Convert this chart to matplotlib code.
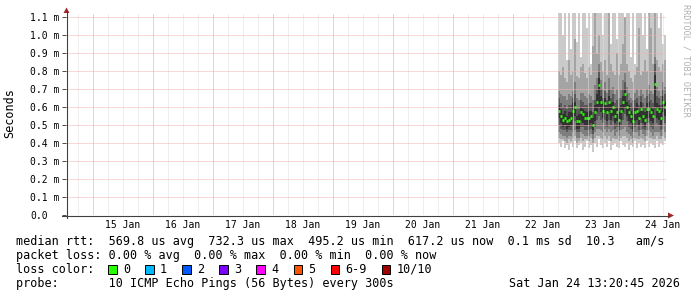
import numpy as np
import pandas as pd
import matplotlib
matplotlib.use("Agg")
import matplotlib.pyplot as plt
import matplotlib.dates as mdates
from matplotlib.lines import Line2D
from matplotlib.patches import Polygon, Rectangle

W, H = 697, 297
MONO = "DejaVu Sans Mono"

# graph window, last 10 days
window_start = "2026-01-14 13:20:45"
window_end = "2026-01-24 13:20:45"
day_labels = ["15 Jan", "16 Jan", "17 Jan", "18 Jan", "19 Jan",
              "20 Jan", "21 Jan", "22 Jan", "23 Jan", "24 Jan"]
y_ticks = [0.0, 0.1, 0.2, 0.3, 0.4, 0.5, 0.6, 0.7, 0.8, 0.9, 1.0, 1.1]
y_labels = ["0.0", "0.1 m", "0.2 m", "0.3 m", "0.4 m", "0.5 m", "0.6 m",
            "0.7 m", "0.8 m", "0.9 m", "1.0 m", "1.1 m"]

# consolidated samples (48 min each), values in 1/100 ms
first_sample = "2026-01-22 18:00"
sample_step = "48min"
median = [58, 55, 53, 54, 52, 53, 54, 58, 60, 52, 52,
          57, 56, 54, 54, 54, 55, 50, 57, 63, 72, 63,
          58, 62, 57, 63, 58, 60, 55, 57, 53, 58, 63,
          67, 60, 57, 55, 52, 57, 58, 54, 59, 55, 53,
          59, 59, 57, 55, 73, 59, 58, 54, 63, 60, 57]
# sorted pings per sample, p01 = fastest ... p10 = slowest
p10 = [115, 115, 100, 115, 86, 115, 92, 115, 115, 96, 115,
       88, 115, 115, 104, 115, 84, 115, 115, 115, 115, 115,
       100, 115, 115, 115, 95, 115, 115, 98, 115, 115, 115,
       105, 115, 115, 88, 115, 84, 115, 115, 115, 100, 115,
       92, 115, 115, 115, 115, 115, 104, 115, 95, 100, 92]
p09 = [80, 78, 82, 76, 74, 86, 78, 80, 98, 77, 76,
       82, 84, 79, 76, 82, 78, 94, 112, 90, 100, 85,
       80, 86, 78, 112, 84, 80, 78, 90, 78, 84, 95,
       110, 84, 80, 76, 74, 78, 82, 104, 78, 80, 86,
       80, 114, 104, 84, 114, 86, 82, 80, 84, 86, 80]
p08 = [69, 67, 66, 66, 64, 67, 66, 69, 74, 65, 64,
       68, 68, 66, 65, 67, 66, 64, 72, 76, 84, 75,
       70, 74, 68, 76, 70, 71, 67, 70, 65, 70, 75,
       79, 71, 68, 65, 64, 68, 70, 66, 70, 67, 65,
       70, 72, 69, 67, 88, 71, 69, 66, 74, 71, 68]
p07 = [65, 62, 60, 61, 59, 61, 61, 65, 67, 59, 59,
       64, 63, 61, 61, 62, 62, 57, 64, 70, 80, 70,
       65, 69, 64, 70, 65, 67, 62, 64, 60, 65, 70,
       74, 67, 64, 62, 60, 64, 65, 61, 66, 62, 60,
       66, 67, 64, 62, 84, 66, 65, 61, 70, 67, 64]
p06 = [61, 59, 56, 58, 55, 57, 57, 62, 63, 55, 56,
       60, 59, 58, 57, 58, 58, 54, 61, 67, 76, 66,
       62, 65, 61, 66, 62, 63, 59, 60, 57, 61, 66,
       70, 63, 61, 58, 56, 60, 62, 57, 63, 58, 57,
       62, 63, 60, 59, 78, 62, 61, 58, 66, 63, 61]
p05 = [54, 51, 49, 50, 48, 49, 50, 53, 55, 48, 48,
       52, 51, 50, 50, 50, 51, 47, 52, 57, 60, 57,
       54, 57, 52, 57, 53, 55, 51, 52, 49, 53, 57,
       60, 55, 52, 51, 48, 52, 53, 50, 54, 51, 49,
       54, 54, 52, 51, 60, 54, 53, 50, 57, 55, 52]
p04 = [50, 48, 47, 47, 46, 47, 47, 50, 52, 46, 46,
       49, 49, 47, 47, 47, 48, 45, 49, 53, 55, 53,
       51, 53, 49, 53, 50, 52, 48, 49, 47, 50, 53,
       56, 52, 49, 48, 46, 49, 50, 47, 51, 48, 47,
       51, 51, 49, 48, 55, 51, 50, 47, 53, 51, 49]
p03 = [46, 45, 44, 44, 43, 44, 44, 46, 47, 43, 43,
       46, 45, 44, 44, 44, 45, 42, 46, 48, 48, 47,
       46, 48, 46, 48, 46, 47, 44, 46, 44, 47, 48,
       49, 46, 45, 44, 43, 46, 46, 44, 47, 45, 44,
       47, 47, 46, 44, 46, 46, 46, 44, 48, 46, 45]
p02 = [43, 42, 42, 41, 40, 42, 41, 43, 44, 40, 41,
       43, 41, 42, 42, 41, 43, 40, 43, 44, 44, 43,
       42, 44, 42, 44, 41, 43, 42, 42, 41, 43, 44,
       44, 43, 41, 42, 40, 43, 42, 42, 43, 42, 41,
       44, 43, 43, 42, 42, 44, 42, 42, 44, 43, 43]
p01 = [40, 38, 41, 37, 39, 36, 40, 38, 41, 37, 39,
       40, 36, 38, 41, 37, 39, 35, 40, 38, 42, 39,
       37, 40, 38, 41, 36, 39, 40, 38, 37, 41, 39,
       38, 40, 36, 39, 38, 41, 37, 40, 38, 39, 37,
       41, 38, 40, 39, 37, 41, 38, 40, 39, 41, 40]

loss_labels = ["0", "1", "2", "3", "4", "5", "6-9", "10/10"]
loss_colors = ["#26ff00", "#00b8ff", "#0059ff", "#7e00ff",
               "#ff00ff", "#ff5500", "#ff0000", "#a10000"]

rtt_line = "median rtt:  569.8 us avg  732.3 us max  495.2 us min  617.2 us now  0.1 ms sd  10.3   am/s"
loss_line = "packet loss: 0.00 % avg  0.00 % max  0.00 % min  0.00 % now"
probe_line = "probe:       10 ICMP Echo Pings (56 Bytes) every 300s"
stamp = "Sat Jan 24 13:20:45 2026"


def fx(px):
    return px / W


def fy(py):
    return 1 - py / H


fig = plt.figure(figsize=(W / 100, H / 100), dpi=100)
fig.patch.set_facecolor("white")

# plot area: x 66..666, y 215 (0.0) .. 13.4 (1.12)
ax = fig.add_axes([fx(66), fy(215), 600 / W, (215 - 13.4) / H])
ax.set_facecolor("white")
for s in ax.spines.values():
    s.set_visible(False)

t = mdates.date2num(pd.date_range(first_sample, periods=len(median), freq=sample_step))
step = pd.Timedelta(sample_step) / pd.Timedelta("1D")

# smoke: outer pair lightest, inner pair darkest
bands = [(p01, p10, "#cacaca"), (p02, p09, "#a4a4a4"), (p03, p08, "#7e7e7e"),
         (p04, p07, "#585858"), (p05, p06, "#323232")]
for lo, hi, col in bands:
    lo = np.array(lo) / 100
    hi = np.array(hi) / 100
    ax.bar(t, hi - lo, bottom=lo, width=step, align="edge", color=col, linewidth=0)

ax.hlines(np.array(median) / 100, t, t + step, colors=loss_colors[0], linewidth=2.0)

ax.set_xlim(mdates.date2num(pd.Timestamp(window_start)), mdates.date2num(pd.Timestamp(window_end)))
ax.set_ylim(0, 1.12)

days = [pd.to_datetime(d + " 2026", format="%d %b %Y") for d in day_labels]
noons = [mdates.date2num(d + pd.Timedelta("12h")) for d in days]
ax.set_xticks(noons)
ax.set_xticklabels(day_labels, fontsize=7, family=MONO)
ax.tick_params(axis="x", which="major", length=0, pad=3.4)

# dotted rrdtool grid: grey every 6 h, pink at midnight and every 0.1 ms
ax.xaxis.set_minor_locator(mdates.HourLocator(byhour=[0, 6, 12, 18]))
ax.xaxis.remove_overlapping_locs = False
ax.tick_params(axis="x", which="minor", length=0)
ax.grid(axis="x", which="minor", color="#dedede", linestyle=(0, (1, 1)), linewidth=0.72)
ax.vlines([mdates.date2num(d) for d in days], 0, 1, transform=ax.get_xaxis_transform(),
          colors="#f0b0b0", linestyles=(0, (1, 1)), linewidth=0.72, zorder=2.6)

ax.set_yticks(y_ticks)
ax.set_yticklabels(y_labels, fontsize=7, family=MONO, ha="left")
ax.tick_params(axis="y", length=2.9, width=0.72, color="#505050", pad=23.0)
ax.grid(axis="y", color="#f0b0b0", linestyle=(0, (1, 1)), linewidth=0.72)
ax.set_axisbelow(False)

# axes with rrdtool arrow heads
fig.add_artist(Line2D([fx(66.5), fx(66.5)], [fy(218), fy(11)], color="#404040", lw=0.8))
fig.add_artist(Line2D([fx(62), fx(669)], [fy(215.5), fy(215.5)], color="#404040", lw=0.8))
fig.add_artist(Polygon([[fx(63.5), fy(13)], [fx(69.5), fy(13)], [fx(66.5), fy(7.5)]],
                       closed=True, color="#a02828", lw=0))
fig.add_artist(Polygon([[fx(668), fy(212.5)], [fx(668), fy(218.5)], [fx(674), fy(215.5)]],
                       closed=True, color="#a02828", lw=0))

fig.text(fx(10), fy(113), "Seconds", rotation=90, ha="center", va="center",
         fontsize=8.5, family=MONO)
fig.text(fx(686), fy(4), "RRDTOOL / TOBI OETIKER", rotation=270, ha="center", va="top",
         fontsize=6.1, family=MONO, color="#b0b0b0")

# legend block
fig.text(fx(16), fy(245), rtt_line, fontsize=8.5, family=MONO, va="baseline")
fig.text(fx(16), fy(259), loss_line, fontsize=8.5, family=MONO, va="baseline")
fig.text(fx(16), fy(273), "loss color:", fontsize=8.5, family=MONO, va="baseline")
fig.text(fx(16), fy(287), probe_line, fontsize=8.5, family=MONO, va="baseline")
fig.text(fx(680), fy(287), stamp, fontsize=8.5, family=MONO, va="baseline", ha="right")

x = 108
for lab, col in zip(loss_labels, loss_colors):
    fig.add_artist(Rectangle((fx(x), fy(273.5)), 8.5 / W, 8.5 / H,
                             facecolor=col, edgecolor="black", lw=0.7))
    fig.text(fx(x + 15), fy(273), lab, fontsize=8.5, family=MONO, va="baseline")
    x += 15 + 7.1 * len(lab) + 15

fig.savefig("out.png", dpi=100, facecolor="white")
